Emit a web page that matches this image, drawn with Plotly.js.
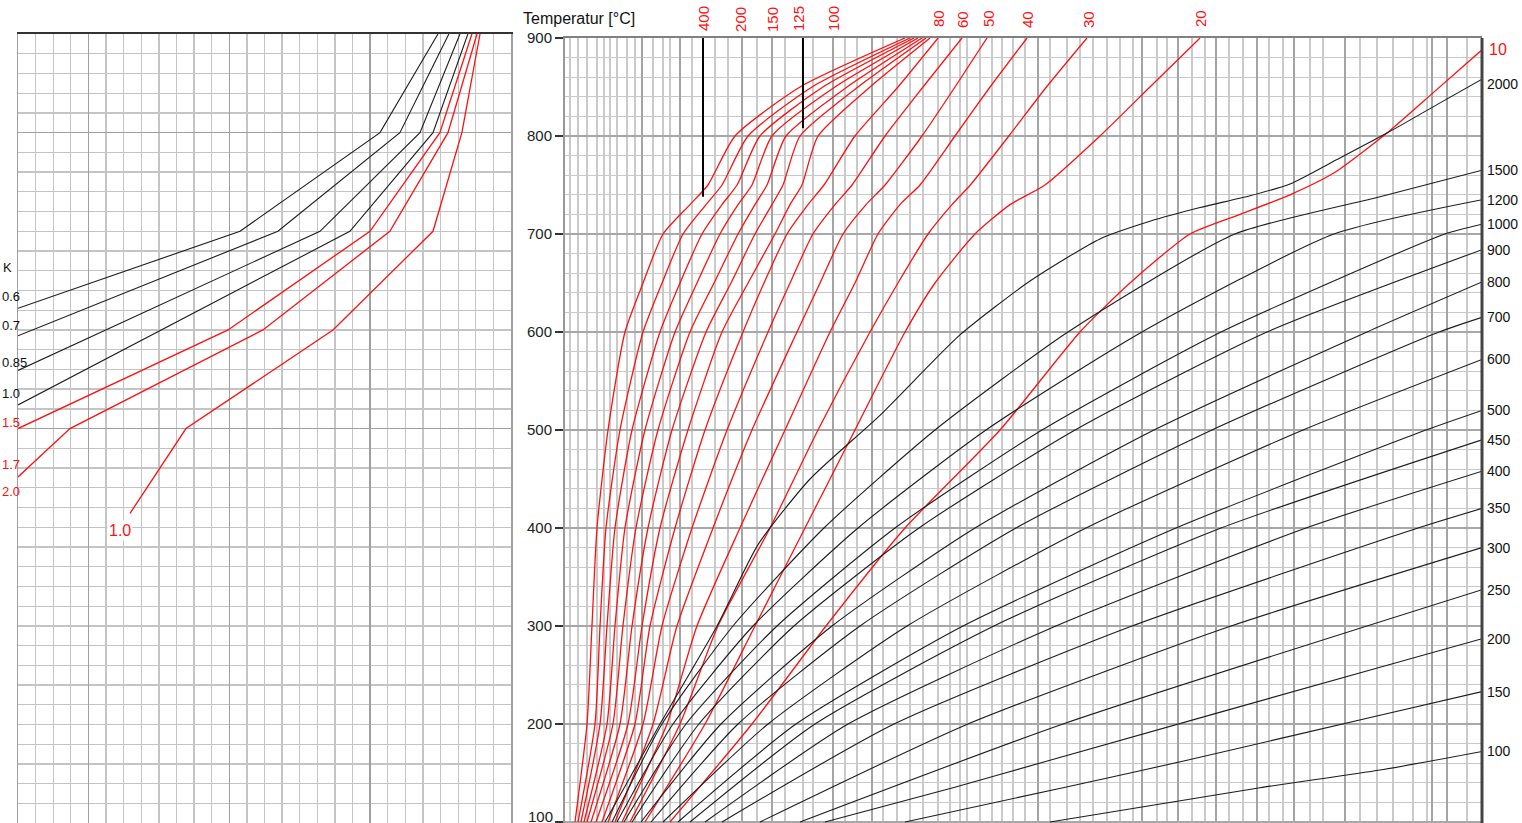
<!DOCTYPE html>
<html><head><meta charset="utf-8">
<script src="https://cdn.plot.ly/plotly-3.0.1.min.js"></script>
<style>html,body{margin:0;padding:0;overflow:hidden;background:#fff}</style>
</head><body><div id="chart" style="width:1522px;height:870px"></div>
<script>
// ---------- right panel : red cooling curves (x = relative time units, T in °C) ----------
const RED_T = [100,200,300,400,500,600,650,700,730,750,800,850,900];
const R400 = [1.09,2.40,2.94,3.49,4.69,6.54,8.51,10.69,13.63,15.59,18.54,25.63,37.08];
const R300 = [1.42,3.27,3.82,4.47,6.00,8.51,10.58,12.87,15.38,17.12,19.96,26.94,37.62];
const R250 = [1.74,3.82,4.58,5.45,7.31,10.36,12.54,14.94,17.12,18.76,21.26,28.13,38.06];
const R200 = [2.07,4.58,5.45,6.54,8.72,12.00,14.39,16.90,18.87,20.39,22.57,29.44,38.49];
const R150 = [2.40,5.23,6.32,7.74,10.14,13.63,16.25,18.87,20.72,22.03,24.10,30.75,38.93];
const R125 = [2.84,6.00,7.31,9.05,11.67,15.38,18.10,20.72,22.57,23.77,25.63,31.95,39.37];
const R100 = [3.38,6.87,8.40,10.36,13.41,17.12,19.96,22.90,24.54,25.84,27.59,33.26,39.80];
const R80  = [4.03,7.63,9.27,12.00,15.27,19.41,21.70,24.21,26.50,28.24,31.62,36.31,40.68];
const R60  = [4.69,8.51,10.58,13.85,17.67,22.14,24.54,27.04,29.44,31.30,34.90,39.04,43.29];
const R50  = [5.45,9.60,12.21,16.14,20.39,25.30,27.81,30.32,32.83,34.90,38.93,42.53,46.02];
const R40  = [6.22,11.12,14.39,19.08,23.99,28.90,31.62,34.13,36.53,38.71,42.53,46.35,50.38];
const R30  = [7.09,12.54,16.68,22.36,27.59,33.26,36.31,39.59,42.20,44.20,48.40,52.50,56.92];
const R20  = [8.72,15.27,20.72,26.17,31.62,37.08,40.35,44.71,48.53,52.34,58.34,63.79,69.25];
const R10_T = [100,200,300,400,500,600,650,700,720,740,763,803,844,888];
const R10   = [11.45,20.39,28.46,37.08,47.44,56.16,61.61,68.16,73.61,79.06,83.97,89.64,94.66,100];

// ---------- right panel : black curves ----------
const B2000_X = [4.36,10.36,16.58,21.05,26.72,34.35,43.07,50.71,58.34,63.79,69.25,74.70,79.06,84.19,89.64,95.09,100];
const B2000_T = [100,200,300,383,450,515,597,652,695,713,727,739,751,776,803,832,858];
const B1500_X = [5.13,10.58,18.32,28.24,40.35,54.85,73.06,88.88,100];
const B1500_T = [100,200,300,400,500,600,700,738,765];
const B1200_X = [5.67,11.78,20.50,31.95,45.91,62.92,83.86,100];
const B1200_T = [100,200,300,400,500,600,700,735];
const B1000_X = [6.43,13.20,23.12,35.99,52.02,71.54,95.96,100];
const B1000_T = [100,200,300,400,500,600,700,710];
const B900_X = [7.31,14.61,24.97,38.60,55.62,76.55,100];
const B900_T = [100,200,300,400,500,600,684];
const B800_X = [8.29,17.01,29.12,44.71,64.23,87.46,100];
const B800_T = [100,200,300,400,500,600,651];
const B700_X = [9.38,18.87,32.17,49.18,70.55,95.31,100];
const B700_T = [100,200,300,400,500,600,615];
const B600_X = [10.69,22.14,37.30,56.82,80.48,100];
const B600_T = [100,200,300,400,500,572];
const B500_X = [12.32,25.19,43.40,66.63,93.89,100];
const B500_T = [100,200,300,400,500,520];
const B450_X = [13.63,27.26,46.78,71.54,100];
const B450_T = [100,200,300,400,490];
const B400_X = [15.27,30.86,53.54,80.81,100];
const B400_T = [100,200,300,400,458];
const B350_X = [17.12,35.88,61.83,93.02,100];
const B350_T = [100,200,300,400,420];
const B300_X = [21.26,43.95,72.63,100];
const B300_T = [100,200,300,380];
const B250_X = [25.63,54.31,100];
const B250_T = [100,200,337];
const B200_X = [28.35,42.31,52.89,88.88,100];
const B200_T = [100,135,163,258,287];
const B150_X = [37.08,54.31,67.83,88.88,100];
const B150_T = [100,135,163,209,233];
const B100_X = [52.89,75.79,88.88,100];
const B100_T = [100,135,153,172];
const BLACK_LABELS = ['2000','1500','1200','1000','900','800','700','600','500','450','400','350','300','250','200','150','100'];

// temperature axis ticks
const Y_TICKS = [100,200,300,400,500,600,700,800,900];
const Y_TICK_TEXT = ['','200','300','400','500','600','700','800','900'];

// top labels of red curves
const RED_TOP_LABELS = ['400','200','150','125','100','80','60','50','40','30','20'];
const RED_TOP_POS = [15.05,19.08,22.57,25.41,29.23,40.68,43.29,46.13,50.38,57.03,69.25];
// black marker lines
const MARK_X = [15.05,25.95];
const MARK_T = [738,808];

// right panel vertical grid positions
const GRID_X_LIGHT = [0.55,1.42,2.40,3.49,4.25,4.91,5.67,6.76,7.63,9.60,10.69,11.45,13.85,16.36,17.78,20.94,23.99,25.95,27.04,30.53,31.84,34.68,36.20,37.62,39.04,40.68,41.98,43.08,43.84,45.26,46.56,47.66,48.85,50.16,52.89,54.74,56.16,57.58,59.11,60.52,61.94,64.56,65.65,68.37,69.79,72.41,73.94,76.77,78.30,81.24,82.66,86.70,88.55,90.29,92.48,94.00,98.36];
const GRID_X_DARK = [8.40,12.54,19.30,22.57,29.23,33.48,51.58,62.92,66.85,70.99,75.46,79.50,85.06,94.55,96.18];

// ---------- left panel ----------
const L06_X = [0,12.61,20.56,23.85],  L06_T = [622,700,800,900];
const L07_X = [0,14.76,21.69,24.47],  L07_T = [594,700,800,900];
const L085_X = [0,17.15,22.83,25.10], L085_T = [559,700,800,900];
const L10_X = [0,18.85,23.57,25.55],  L10_T = [524,700,800,900];
const L15_X = [0,11.93,19.99,23.96,25.78], L15_T = [500,600,700,800,900];
const L17_X = [0,2.95,13.91,21.12,24.42,26.07], L17_T = [451,500,600,700,800,900];
const LR10_X = [6.36,9.54,17.89,23.57,25.21,26.24], LR10_T = [414,500,600,700,800,900];
const LEFT_LABELS = ['K','0.6','0.7','0.85','1.0','1.5','1.7','2.0'];
const LEFT_LABEL_T = [663,634,604,567,536,506,464,436];
const LEFT_LABEL_RED = [false,false,false,false,false,true,true,true];

// ---------- build ----------
const W = 1522, H = 870;
const FONT = 'Liberation Sans, Arial, sans-serif';
const RED = '#ff1010', BLK = '#1c1c1c';
const traces = [];
function addLine(x, y, color, width, xa, ya, shape){
  traces.push({type:'scatter', mode:'lines', x:x, y:y, xaxis:xa, yaxis:ya,
    line:{color:color, width:width, shape:shape||'linear', smoothing:0.6}, hoverinfo:'skip'});
}
[R400,R300,R250,R200,R150,R125,R100,R80,R60,R50,R40,R30,R20].forEach(a => addLine(a, RED_T, RED, 1.3, 'x', 'y', 'spline'));
addLine(R10, R10_T, RED, 1.3, 'x', 'y', 'spline');
const BX = [B2000_X,B1500_X,B1200_X,B1000_X,B900_X,B800_X,B700_X,B600_X,B500_X,B450_X,B400_X,B350_X,B300_X,B250_X,B200_X,B150_X,B100_X];
const BT = [B2000_T,B1500_T,B1200_T,B1000_T,B900_T,B800_T,B700_T,B600_T,B500_T,B450_T,B400_T,B350_T,B300_T,B250_T,B200_T,B150_T,B100_T];
BX.forEach((x,i) => addLine(x, BT[i], BLK, 1.1, 'x', 'y', 'spline'));
MARK_X.forEach((mx,i) => addLine([mx,mx],[900,MARK_T[i]], '#000', 2, 'x', 'y'));

[[L06_X,L06_T],[L07_X,L07_T],[L085_X,L085_T],[L10_X,L10_T]].forEach(p => addLine(p[0], p[1], BLK, 1.1, 'x2', 'y2'));
[[L15_X,L15_T],[L17_X,L17_T],[LR10_X,LR10_T]].forEach(p => addLine(p[0], p[1], RED, 1.3, 'x2', 'y2'));

const ann = [];
RED_TOP_LABELS.forEach((t,i) => ann.push({text:t, x:RED_TOP_POS[i], y:900, xref:'x', yref:'y', yshift:19,
  textangle:-90, showarrow:false, xanchor:'center', yanchor:'middle', font:{family:FONT, size:15, color:RED}}));
BLACK_LABELS.forEach((t,i) => ann.push({text:t, x:100, y:BT[i][BT[i].length-1], xref:'x', yref:'y',
  xanchor:'left', yanchor:'middle', xshift:3, yshift:(i===0?-5:0), showarrow:false, font:{family:FONT, size:14, color:'#111'}}));
ann.push({text:'10', x:100, y:R10_T[R10_T.length-1], xref:'x', yref:'y', xanchor:'left', yanchor:'middle', xshift:5,
  showarrow:false, font:{family:FONT, size:16, color:RED}});
ann.push({text:'Temperatur [°C]', x:521/W, y:1-18/H, xref:'paper', yref:'paper', xanchor:'left', yanchor:'middle',
  showarrow:false, font:{family:FONT, size:16, color:'#111'}});
// lowest tick label raised slightly so it stays inside the window
ann.push({text:String(Y_TICKS[0]), x:0, y:Y_TICKS[0], xref:'x domain', yref:'y', xanchor:'right', yanchor:'middle',
  xshift:-10, yshift:6, showarrow:false, font:{family:FONT, size:15, color:'#222'}});
LEFT_LABELS.forEach((t,i) => ann.push({text:t, x:0, y:LEFT_LABEL_T[i], xref:'paper', yref:'y2', xanchor:'left', yanchor:'middle',
  xshift:(i===0?1:0), showarrow:false, font:{family:FONT, size:13, color:LEFT_LABEL_RED[i]?RED:'#111'}}));
ann.push({text:'1.0', x:5.79, y:397, xref:'x2', yref:'y2', xanchor:'center', yanchor:'middle', showarrow:false,
  bgcolor:'#fff', font:{family:FONT, size:16, color:RED}});

const yBot = 1 - 850/H;
const layout = {
  width:W, height:H, margin:{l:0,r:0,t:0,b:0}, paper_bgcolor:'#fff', plot_bgcolor:'#fff',
  showlegend:false, hovermode:false, font:{family:FONT},
  xaxis:{domain:[565/W,1482/W], range:[0,100], side:'top', showline:true, linecolor:'#808080', linewidth:2,
    tickmode:'array', tickvals:GRID_X_DARK, showticklabels:false, ticks:'', showgrid:true, gridcolor:'#a4a4a4', gridwidth:1.3,
    minor:{tickmode:'array', tickvals:GRID_X_LIGHT, showgrid:true, gridcolor:'#cacaca', gridwidth:1.3, ticks:''}, zeroline:false},
  yaxis:{domain:[yBot,1-38/H], range:[71.43,900], showline:true, linecolor:'#999', linewidth:2,
    tickmode:'array', tickvals:Y_TICKS, ticktext:Y_TICK_TEXT, ticks:'outside', ticklen:8, tickcolor:'#333', tickwidth:1.5,
    tickfont:{family:FONT, size:15, color:'#222'}, showgrid:true, gridcolor:'#a8a8a8', gridwidth:1.3,
    minor:{dtick:20, tick0:0, showgrid:true, gridcolor:'#c8c8c8', gridwidth:1.3, ticks:''}, zeroline:false},
  xaxis2:{domain:[18/W,511/W], range:[0,28], anchor:'y2', side:'top', showline:true, linecolor:'#333', linewidth:2,
    tickmode:'array', tickvals:[4,12,20], showticklabels:false, ticks:'', showgrid:true, gridcolor:'#a0a0a0', gridwidth:1.5,
    minor:{dtick:1, tick0:0, showgrid:true, gridcolor:'#c4c4c4', gridwidth:1.3, ticks:''}, zeroline:false},
  yaxis2:{domain:[yBot,1-34/H], range:[72.8,900], anchor:'x2', showline:true, mirror:true, linecolor:'#a0a0a0', linewidth:1.5,
    tickmode:'array', tickvals:[500,800], showticklabels:false, ticks:'', showgrid:true, gridcolor:'#a0a0a0', gridwidth:1.5,
    minor:{dtick:20, tick0:0, showgrid:true, gridcolor:'#c4c4c4', gridwidth:1.3, ticks:''}, zeroline:false},
  shapes:[{type:'line', xref:'x domain', yref:'y domain', x0:1, x1:1, y0:0, y1:1, line:{color:'#444', width:3}}],
  annotations:ann
};
Plotly.newPlot('chart', traces, layout, {staticPlot:true, displayModeBar:false});
</script></body></html>
